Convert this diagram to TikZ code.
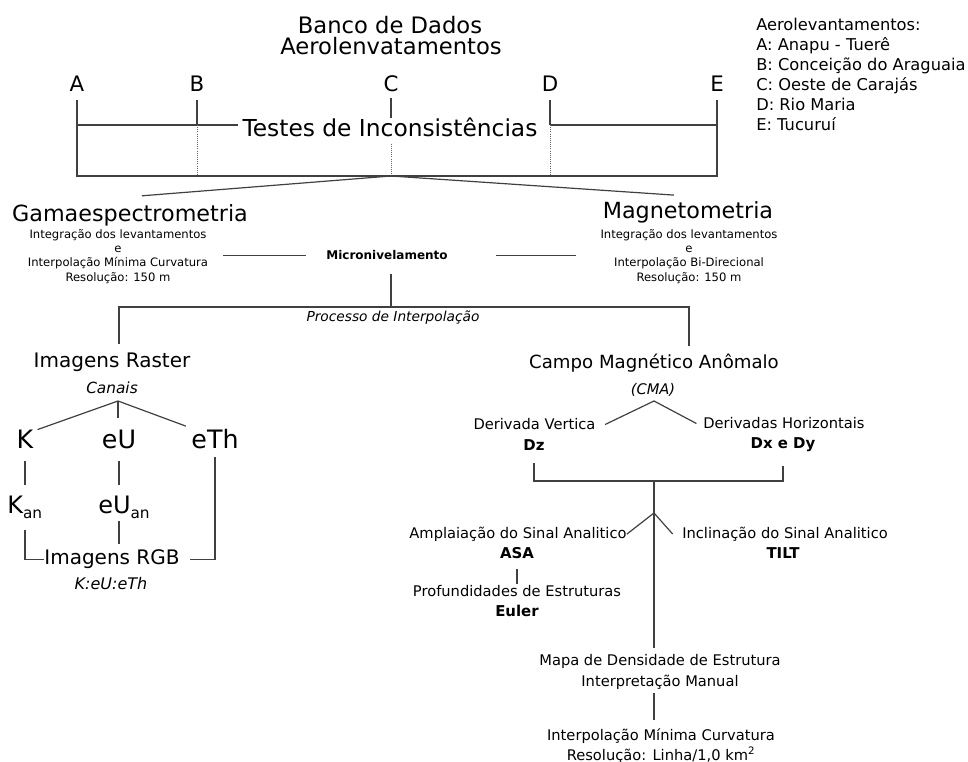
\documentclass[tikz,border=0pt]{standalone}
\usepackage{fontspec}
\setmainfont{DejaVu Sans}[ItalicFont={DejaVu Sans Oblique},BoldItalicFont={DejaVu Sans Bold Oblique}]
\newcommand{\fsz}[1]{\fontsize{#1}{#1}\selectfont}
\newcommand{\an}{\raisebox{-3.8pt}{\fsz{11.5}an}}
\tikzset{
    ln/.style={draw=black!75, line width=0.9pt},
    dots/.style={draw=black!60, line width=0.6pt, densely dotted},
    txt/.style={inner sep=0pt, anchor=base, text=black},
    ttl/.style={txt, font=\fsz{17}},
    ltr/.style={txt, font=\fsz{16}},
    tst/.style={txt, font=\fsz{17.5}},
    leg/.style={txt, anchor=base west, font=\fsz{12.2}},
    big/.style={txt, font=\fsz{16.7}},
    sub/.style={txt, font=\fsz{8.7}},
    bsub/.style={txt, font=\fsz{9}\bfseries},
    itl/.style={txt, font=\fsz{10.3}\itshape},
    mid/.style={txt, font=\fsz{15}},
    chan/.style={txt, font=\fsz{19}},
    chantwo/.style={txt, font=\fsz{18}},
    med/.style={txt, font=\fsz{11}},
    bmed/.style={txt, font=\fsz{11.2}\bfseries}
}

\begin{document}
\begin{tikzpicture}[x=0.75pt, y=-0.75pt]
    \useasboundingbox (0,0) rectangle (968,762);

    % banco de dados
    \node[ttl] (banco) at (390,33.3) {Banco de Dados};
    \node[ttl] (aero) at (391,55) {Aerolenvatamentos};
    \foreach \n/\x in {A/77,B/197,C/391,D/550,E/717}
        \node[ltr] (\n) at (\x,92) {\n};
    \node[tst] (testes) at (390,137) {Testes de Inconsistências};
    \coordinate (busT) at (0,125);
    \coordinate (busB) at (0,176);

    \draw[ln, shorten <=6pt, shorten >=6pt] (A.south) -- (A |- busB) -- (E |- busB) -- (E.south);
    \draw[ln, shorten >=3pt] (A |- busT) -- (testes.west |- busT);
    \draw[ln] (D |- busT) -- (E |- busT);
    \foreach \n in {B,D} {
        \draw[ln, shorten <=6pt] (\n.south) -- (\n |- busT);
        \draw[dots] (\n |- busT) -- (\n |- busB);
    }
    \draw[ln, shorten <=4pt] (C.south) -- (C |- testes.north);
    \draw[dots, shorten <=4.5pt] (C |- testes.south) -- (C |- busB);

    % legenda
    \foreach \t [count=\i from 0] in {Aerolevantamentos:, A: Anapu - Tuerê,
        B: Conceição do Araguaia, C: Oeste de Carajás, D: Rio Maria, E: Tucuruí}
        \node[leg] (leg\i) at (756,{30.7+20*\i}) {\t};

    % gama e magneto
    \node[big] (gama) at (130,222) {Gamaespectrometria};
    \node[big] (mag) at (688,218.3) {Magnetometria};
    \draw[ln] ([shift={(12,-9)}]gama.north) -- (C |- busB) -- ([shift={(-14,-6)}]mag.north);

    \foreach \t/\y [count=\i] in {Integração dos levantamentos/238.5, e/252.5,
        Interpolação Mínima Curvatura/267, Resolução: 150 m/281.5}
        \node[sub] (gs\i) at (118,\y) {\t};
    \foreach \t/\y [count=\i] in {Integração dos levantamentos/238.5, e/252.5,
        Interpolação Bi-Direcional/267, Resolução: 150 m/281.5}
        \node[sub] (ms\i) at (689,\y) {\t};

    \node[bsub] (micro) at (387,260) {Micronivelamento};
    \draw[ln, shorten <=11pt, shorten >=15pt] (gs3.east |- micro.west) -- (micro.west);
    \draw[ln, shorten <=36pt, shorten >=18pt] (micro.east) -- (ms1.west |- micro.east);

    % interpolacao
    \coordinate (busM) at (391,307);
    \coordinate (busL) at (119,307);
    \coordinate (busR) at (689,307);
    \draw[ln, shorten <=10pt] (busM |- micro.south) -- (busM);
    \node[itl] (proc) at (393,322) {Processo de Interpolação};

    \node[mid] (raster) at (112,367.3) {Imagens Raster};
    \node[mid, font=\fsz{13.6}] (cma) at (654,368.3) {Campo Magnético Anômalo};
    \draw[ln, shorten <=6pt, shorten >=6pt] (busL |- raster.north) -- (busL) -- (busR) -- (busR |- cma.north);

    % canais
    \node[itl, font=\fsz{11.5}\itshape] (canais) at (112,393.3) {Canais};
    \coordinate (capex) at (118,401);
    \node[chan] (K) at (25,448.3) {K};
    \node[chan] (eU) at (119,448.3) {eU};
    \node[chan] (eTh) at (215,448.3) {eTh};
    \draw[ln] (capex) -- ([xshift=3pt]K.north east);
    \draw[ln, shorten >=9pt] (capex) -- (capex |- eU.north);
    \draw[ln] (capex) -- ([shift={(-4pt,2pt)}]eTh.north west);

    \node[chantwo, anchor=base west] (Kan) at (7,513.3) {K\an};
    \node[chantwo, anchor=base west] (eUan) at (98,513.3) {eU\an};
    \node[mid] (rgb) at (112,565) {Imagens RGB};
    \node[itl, font=\fsz{12}\itshape] (keu) at (111,590) {K:eU:eTh};

    \draw[ln, shorten <=9pt, shorten >=8pt] (K.south) -- (K |- Kan.north);
    \draw[ln, shorten <=9pt, shorten >=8pt] (eU.south) -- (eU |- eUan.north);
    \draw[ln, shorten <=6pt, shorten >=7.5pt] (eTh.south) |- (rgb.east);
    \draw[ln, shorten <=8pt] (K |- Kan.south) |- (rgb.west);
    \draw[ln, shorten <=1.5pt, shorten >=4.5pt] (eU |- eUan.south) -- (eU |- rgb.north);

    % campo magnetico
    \node[itl, font=\fsz{11}\itshape] (cmaab) at (653,395) {(CMA)};
    \coordinate (dapex) at (654,401);
    \node[med] (dv) at (534.5,430) {Derivada Vertica};
    \node[bmed] (dz) at (534,450.7) {Dz};
    \node[med] (dh) at (784,429) {Derivadas Horizontais};
    \node[bmed] (dxy) at (783,449) {Dx e Dy};
    \draw[ln] ([xshift=7pt]dv.east) -- (dapex) -- ([xshift=-5pt]dh.west);

    \coordinate (busD) at (654,481);
    \draw[ln, shorten <=9pt, shorten >=10pt] (dz.south) -- (dz |- busD) -- (dxy |- busD) -- (dxy.south);

    \coordinate (fapex) at (654,513);
    \node[med] (amp) at (518,538.3) {Amplaiação do Sinal Analitico};
    \node[bmed] (asa) at (517,558.3) {ASA};
    \node[med] (incl) at (785,538.3) {Inclinação do Sinal Analitico};
    \node[bmed] (tilt) at (783,558.3) {TILT};
    \draw[ln] (amp.east) -- (fapex) -- ([xshift=-7pt]incl.west);

    \node[med] (prof) at (517,596.7) {Profundidades de Estruturas};
    \node[bmed] (euler) at (517,616.7) {Euler};
    \draw[ln, shorten <=8pt, shorten >=1pt] (asa.south) -- (asa |- prof.north);

    \node[med] (mapa) at (660,665.7) {Mapa de Densidade de Estrutura};
    \node[med] (manual) at (660,686.7) {Interpretação Manual};
    \draw[ln, shorten >=5pt] (busD) -- (busD |- mapa.north);

    \node[med] (interp) at (661,740) {Interpolação Mínima Curvatura};
    \node[med] (reso) at (661,760) {Resolução: Linha/1,0 km\textsuperscript{2}};
    \draw[ln, shorten <=2pt, shorten >=6pt] (busD |- manual.south) -- (busD |- interp.north);

\end{tikzpicture}
\end{document}
